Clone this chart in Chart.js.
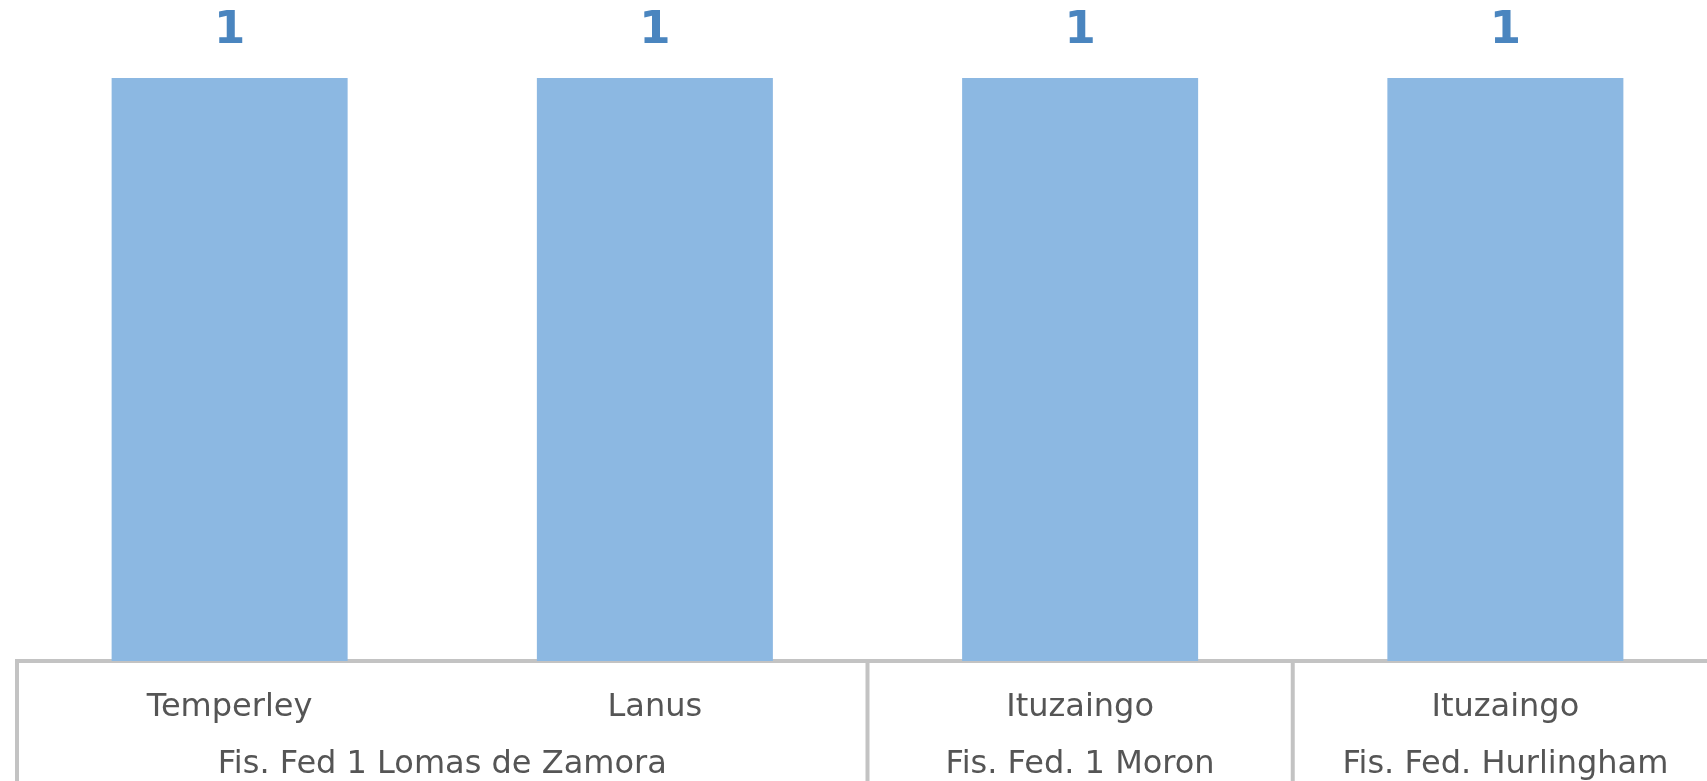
<!DOCTYPE html>
<html>
<head>
<meta charset="utf-8">
<script src="https://cdn.jsdelivr.net/npm/chart.js@4/dist/chart.umd.min.js"></script>
<style>
  html, body { margin: 0; padding: 0; background: #fff; overflow: hidden; }
  #wrap { width: 1720px; height: 781px; position: relative; }
</style>
</head>
<body>
<div id="wrap"><canvas id="myChart"></canvas></div>
<script>
// categories shown under each bar
const categories = ['Temperley', 'Lanus', 'Ituzaingo', 'Ituzaingo'];
// second row labels, each spanning some categories
const groups = ['Fis. Fed 1 Lomas de Zamora', 'Fis. Fed. 1 Moron', 'Fis. Fed. Hurlingham'];
const groupSpans = [2, 1, 1];
// bar values
const values = [1, 1, 1, 1];

const FONT = '"DejaVu Sans", sans-serif';
const lineColor = '#c3c3c3';

// draws value labels over the bars, group labels and the separators
const groupLabels = {
    id: 'groupLabels',
    afterDraw(chart) {
        const ctx = chart.ctx;
        const x = chart.scales.x;
        const area = chart.chartArea;
        const catW = area.width / categories.length;

        ctx.save();
        // values above bars
        ctx.fillStyle = '#4a85bf';
        ctx.font = 'bold 45px ' + FONT;
        ctx.textAlign = 'center';
        ctx.textBaseline = 'middle';
        chart.getDatasetMeta(0).data.forEach((bar, i) => {
            ctx.fillText(String(values[i]), bar.x, bar.y - 47);
        });

        // separators and group names
        ctx.strokeStyle = lineColor;
        ctx.lineWidth = 4;
        ctx.fillStyle = '#555';
        ctx.font = '32px ' + FONT;
        let start = 0;
        groups.forEach((g, gi) => {
            const end = start + groupSpans[gi] - 1;
            const sx = x.getPixelForValue(start) - catW / 2;
            ctx.beginPath();
            ctx.moveTo(sx, area.bottom);
            ctx.lineTo(sx, chart.height);
            ctx.stroke();
            const cx = (x.getPixelForValue(start) + x.getPixelForValue(end)) / 2;
            ctx.fillText(g, cx, area.bottom + 104);
            start = end + 1;
        });
        ctx.restore();
    }
};

var ctx = document.getElementById('myChart').getContext('2d');

var chart = new Chart(ctx, {
    type: 'bar',
    data: {
        labels: categories,
        datasets: [{
            data: values,
            backgroundColor: '#8cb8e2',
            borderWidth: 0,
            categoryPercentage: 1,
            barPercentage: 0.555
        }]
    },
    options: {
        responsive: true,
        maintainAspectRatio: false,
        animation: false,
        layout: { padding: { left: 17, right: 2, top: 78, bottom: 0 } },
        plugins: {
            legend: { display: false },
            tooltip: { enabled: false }
        },
        scales: {
            y: { display: false, min: 0, max: 1 },
            x: {
                grid: { display: false },
                border: { display: true, color: lineColor, width: 4 },
                ticks: {
                    color: '#555',
                    font: { family: FONT, size: 32 },
                    padding: 19,
                    maxRotation: 0
                },
                afterFit: (scale) => { scale.height = 120; }
            }
        }
    },
    plugins: [groupLabels]
});
</script>
</body>
</html>
